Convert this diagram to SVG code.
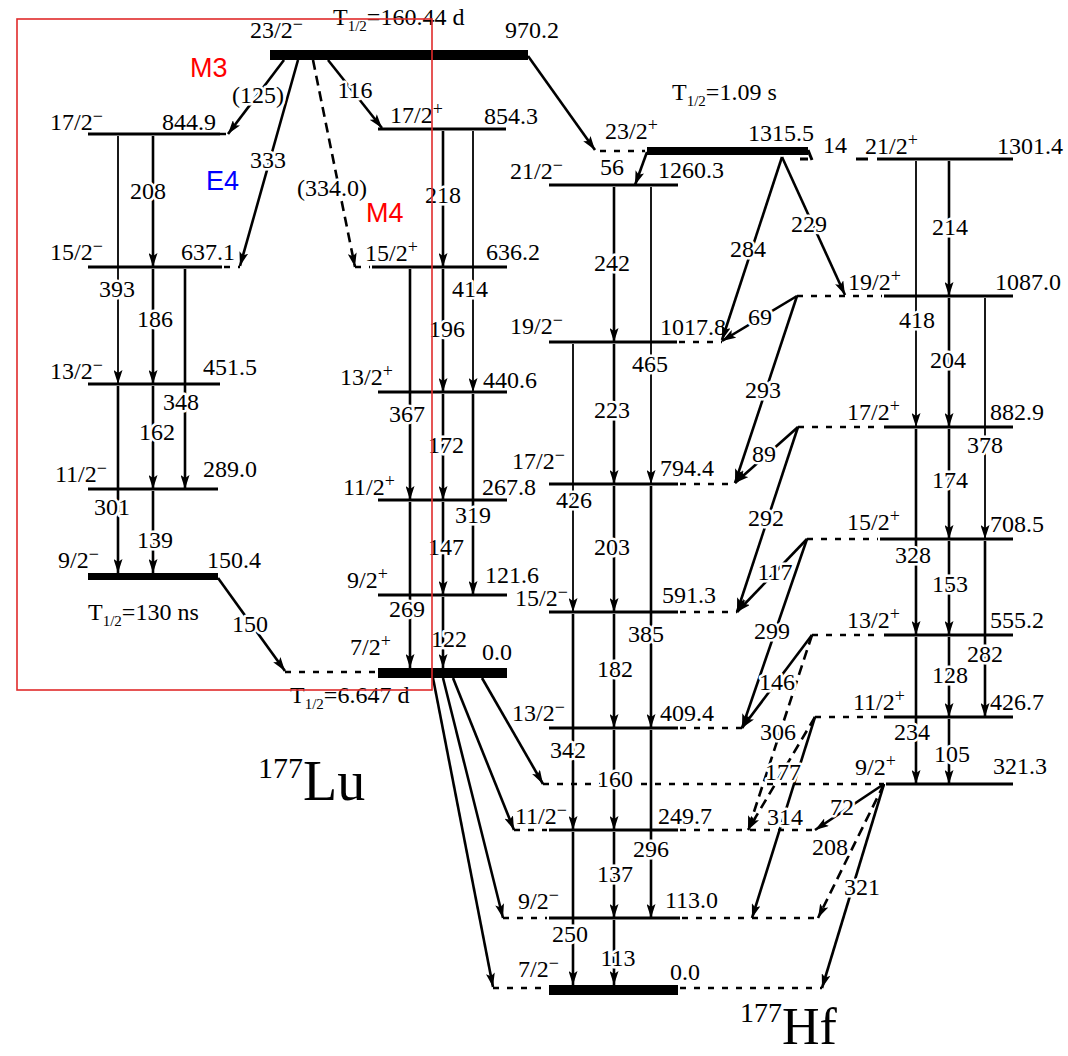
<svg xmlns="http://www.w3.org/2000/svg" width="1068" height="1056" viewBox="0 0 1068 1056">
<style>
.lv{stroke:#000;stroke-width:3;fill:none}
.ext{stroke:#000;stroke-width:2.5;stroke-dasharray:6 8;fill:none}
.t{stroke:#000;stroke-width:2.6;fill:none;marker-end:url(#ah)}
.tn{stroke-width:1.8}
.td{stroke-dasharray:10 6}
text{font-family:"Liberation Serif","Times New Roman",serif;font-size:24px;fill:#000}
.tl{text-anchor:middle;stroke:#fff;stroke-width:5;stroke-linejoin:round;paint-order:stroke}
.sp{font-size:18px}
.sub{font-size:15px}
.ann{font-family:"Liberation Sans",Arial,sans-serif;font-size:27px}
.red{fill:#ff0000}
.blue{fill:#0000ff}
</style>
<defs>
<marker id="ah" viewBox="0 0 14 9" refX="14" refY="4.5" markerWidth="14" markerHeight="9" markerUnits="userSpaceOnUse" orient="auto"><path d="M0,0 L14,4.5 L0,9 L3,4.5 z" fill="#000"/></marker>
</defs>
<rect width="1068" height="1056" fill="#fff"/>

<!-- 177Lu levels -->
<g id="lu-970"><path d="M270,55 H528" stroke="#000" stroke-width="10"/><text x="250" y="38">23/2<tspan class="sp" dy="-8">−</tspan></text><text x="505" y="38">970.2</text><text x="333" y="25">T<tspan class="sub" dy="6">1/2</tspan><tspan dy="-6">=160.44 d</tspan></text></g>
<g id="lu-844"><path class="lv" d="M88,134 H220"/><path class="ext" d="M220,134 H230"/><text x="50" y="130">17/2<tspan class="sp" dy="-8">−</tspan></text><text x="162" y="130">844.9</text></g>
<g id="lu-637"><path class="lv" d="M88,267 H222"/><path class="ext" d="M224,267 H240"/><text x="50" y="260">15/2<tspan class="sp" dy="-8">−</tspan></text><text x="181" y="260">637.1</text></g>
<g id="lu-451"><path class="lv" d="M88,384 H220"/><text x="50" y="379">13/2<tspan class="sp" dy="-8">−</tspan></text><text x="203" y="375">451.5</text></g>
<g id="lu-289"><path class="lv" d="M88,489 H218"/><text x="55" y="482">11/2<tspan class="sp" dy="-8">−</tspan></text><text x="203" y="477">289.0</text></g>
<g id="lu-150"><path d="M88,576.5 H218" stroke="#000" stroke-width="7"/><text x="58" y="568">9/2<tspan class="sp" dy="-8">−</tspan></text><text x="207" y="568">150.4</text><text x="88" y="620">T<tspan class="sub" dy="6">1/2</tspan><tspan dy="-6">=130 ns</tspan></text></g>
<g id="lu-854"><path class="lv" d="M378,129 H506"/><text x="390" y="123">17/2<tspan class="sp" dy="-8">+</tspan></text><text x="484" y="124">854.3</text></g>
<g id="lu-636"><path class="lv" d="M372,267 H507"/><path class="ext" d="M355,267 H370"/><text x="365" y="261">15/2<tspan class="sp" dy="-8">+</tspan></text><text x="486" y="260">636.2</text></g>
<g id="lu-440"><path class="lv" d="M378,392 H507"/><text x="340" y="385">13/2<tspan class="sp" dy="-8">+</tspan></text><text x="483" y="388">440.6</text></g>
<g id="lu-267"><path class="lv" d="M378,500 H507"/><text x="343" y="495">11/2<tspan class="sp" dy="-8">+</tspan></text><text x="482" y="495">267.8</text></g>
<g id="lu-121"><path class="lv" d="M378,595 H507"/><text x="347" y="588">9/2<tspan class="sp" dy="-8">+</tspan></text><text x="485" y="583">121.6</text></g>
<g id="lu-0"><path d="M378,673 H507" stroke="#000" stroke-width="10"/><path class="ext" d="M285,672 H376"/><text x="350" y="655">7/2<tspan class="sp" dy="-8">+</tspan></text><text x="482" y="660">0.0</text><text x="290" y="703">T<tspan class="sub" dy="6">1/2</tspan><tspan dy="-6">=6.647 d</tspan></text></g>
<g id="lu-name"><text x="258" y="800"><tspan font-size="30" dy="-22">177</tspan><tspan font-size="56" dy="22">Lu</tspan></text></g>

<!-- 177Hf levels -->
<g id="hf-1315"><path d="M647,151 H808" stroke="#000" stroke-width="8"/><path class="ext" d="M600,151 H645"/><text x="605" y="139">23/2<tspan class="sp" dy="-8">+</tspan></text><text x="748" y="141">1315.5</text><text x="672" y="100">T<tspan class="sub" dy="6">1/2</tspan><tspan dy="-6">=1.09 s</tspan></text></g>
<g id="hf-1260"><path class="lv" d="M549,185 H678"/><text x="510" y="179">21/2<tspan class="sp" dy="-8">−</tspan></text><text x="658" y="178">1260.3</text></g>
<g id="hf-1301"><path class="lv" d="M877,159 H1013"/><path class="lv" d="M800,159 H808 M856,159 H868" stroke-width="2.5"/><text x="865" y="154">21/2<tspan class="sp" dy="-8">+</tspan></text><text x="997" y="154">1301.4</text></g>
<g id="hf-1087"><path class="lv" d="M884,296 H1013"/><path class="ext" d="M797,296 H882"/><text x="848" y="290">19/2<tspan class="sp" dy="-8">+</tspan></text><text x="995" y="290">1087.0</text></g>
<g id="hf-1017"><path class="lv" d="M549,342 H677"/><path class="ext" d="M679,342 H722"/><text x="510" y="334">19/2<tspan class="sp" dy="-8">−</tspan></text><text x="660" y="335">1017.8</text></g>
<g id="hf-882"><path class="lv" d="M884,427 H1013"/><path class="ext" d="M798,427 H882"/><text x="847" y="420">17/2<tspan class="sp" dy="-8">+</tspan></text><text x="990" y="420">882.9</text></g>
<g id="hf-794"><path class="lv" d="M549,484 H678"/><path class="ext" d="M680,484 H735"/><text x="512" y="469">17/2<tspan class="sp" dy="-8">−</tspan></text><text x="660" y="476">794.4</text></g>
<g id="hf-708"><path class="lv" d="M880,539 H1013"/><path class="ext" d="M807,539 H878"/><text x="847" y="530">15/2<tspan class="sp" dy="-8">+</tspan></text><text x="990" y="532">708.5</text></g>
<g id="hf-591"><path class="lv" d="M549,612 H678"/><path class="ext" d="M680,612 H737"/><text x="515" y="606">15/2<tspan class="sp" dy="-8">−</tspan></text><text x="662" y="603">591.3</text></g>
<g id="hf-555"><path class="lv" d="M884,635 H1013"/><path class="ext" d="M812,635 H882"/><text x="847" y="628">13/2<tspan class="sp" dy="-8">+</tspan></text><text x="990" y="628">555.2</text></g>
<g id="hf-426"><path class="lv" d="M884,717 H1013"/><path class="ext" d="M815,717 H882"/><text x="853" y="710">11/2<tspan class="sp" dy="-8">+</tspan></text><text x="990" y="710">426.7</text></g>
<g id="hf-409"><path class="lv" d="M549,728 H678"/><path class="ext" d="M680,728 H742"/><text x="512" y="721">13/2<tspan class="sp" dy="-8">−</tspan></text><text x="660" y="721">409.4</text></g>
<g id="hf-321"><path class="lv" d="M886,784 H1013"/><path class="ext" d="M543,784 H884"/><text x="855" y="775">9/2<tspan class="sp" dy="-8">+</tspan></text><text x="993" y="774">321.3</text></g>
<g id="hf-249"><path class="lv" d="M549,830 H678"/><path class="ext" d="M514,830 H547 M680,830 H815"/><text x="515" y="824">11/2<tspan class="sp" dy="-8">−</tspan></text><text x="658" y="824">249.7</text></g>
<g id="hf-113"><path class="lv" d="M549,918 H680"/><path class="ext" d="M503,918 H547 M682,918 H820"/><text x="518" y="909">9/2<tspan class="sp" dy="-8">−</tspan></text><text x="665" y="908">113.0</text></g>
<g id="hf-0"><path d="M549,990 H678" stroke="#000" stroke-width="10"/><path class="ext" d="M493,988 H547 M680,988 H822"/><text x="518" y="977">7/2<tspan class="sp" dy="-8">−</tspan></text><text x="670" y="980">0.0</text></g>
<g id="hf-name"><text x="740" y="1044"><tspan font-size="28" dy="-22">177</tspan><tspan font-size="52" dy="22">Hf</tspan></text></g>

<!-- connectors -->
<g id="connectors">
<path class="t tn" d="M118,136 V384"/>
<path class="t" d="M153,136 V267"/>
<path class="t" d="M153,269 V384"/>
<path class="t" d="M185,269 V489" stroke-width="2"/>
<path class="t" d="M118,386 V573"/>
<path class="t" d="M153,386 V489"/>
<path class="t" d="M153,491 V573"/>
<path class="t" d="M284,60 L228,134"/>
<path class="t" d="M298,60 L240,266"/>
<path class="t td" d="M313,60 L355,267"/>
<path class="t" d="M328,60 L382,128"/>
<path class="t" d="M528,56 L595,150"/>
<path class="t" d="M218,578 L285,671"/>
<path class="t" d="M410,269 V500"/>
<path class="t" d="M410,502 V668"/>
<path class="t" d="M443,131 V267"/>
<path class="t" d="M443,269 V392"/>
<path class="t" d="M443,394 V500"/>
<path class="t" d="M443,502 V595"/>
<path class="t" d="M443,597 V668"/>
<path class="t tn" d="M473,131 V392"/>
<path class="t" d="M473,394 V595"/>
<path class="t" d="M482,678 L543,784"/>
<path class="t" d="M453,678 L514,830" stroke-width="2"/>
<path class="t" d="M443,678 L503,918" stroke-width="1.8"/>
<path class="t" d="M433,678 L493,987" stroke-width="1.6"/>
<path class="t" d="M647,152 L635,185"/>
<path d="M808,150 L812,160" stroke="#000" stroke-width="3"/>
<path class="t" d="M782,157 L722,340" stroke-width="2"/>
<path class="t" d="M782,157 L845,295"/>
<path class="t" d="M614,187 V342"/>
<path class="t" d="M614,344 V484"/>
<path class="t" d="M614,486 V612"/>
<path class="t" d="M614,614 V728"/>
<path class="t" d="M614,730 V830"/>
<path class="t" d="M614,832 V918"/>
<path class="t" d="M614,920 V985"/>
<path class="t tn" d="M651,187 V484"/>
<path class="t" d="M651,486 V728"/>
<path class="t" d="M651,730 V918"/>
<path class="t tn" d="M573,344 V612"/>
<path class="t" d="M573,614 V830"/>
<path class="t" d="M573,832 V985"/>
<path class="t tn" d="M916,161 V427"/>
<path class="t" d="M916,429 V635"/>
<path class="t" d="M916,637 V784"/>
<path class="t" d="M949,161 V296"/>
<path class="t" d="M949,298 V427"/>
<path class="t" d="M949,429 V539"/>
<path class="t" d="M949,541 V635"/>
<path class="t" d="M949,637 V717"/>
<path class="t" d="M949,719 V784"/>
<path class="t tn" d="M985,298 V539"/>
<path class="t" d="M985,541 V717"/>
<path class="t" d="M797,296 L722,341"/>
<path class="t" d="M797,296 L735,483"/>
<path class="t" d="M798,427 L735,483"/>
<path class="t" d="M798,427 L737,612"/>
<path class="t" d="M807,539 L737,612"/>
<path class="t" d="M807,539 L742,728"/>
<path class="t" d="M812,635 L742,728"/>
<path class="t td" d="M812,635 L748,830"/>
<path class="t td" d="M815,717 L748,830"/>
<path class="t" d="M815,717 L752,918"/>
<path class="t" d="M884,784 L815,830"/>
<path class="t td" d="M884,784 L818,918"/>
<path class="t" d="M884,784 L822,988"/>
</g>

<!-- transition labels -->
<g id="transition-labels">
<text class="tl" x="117" y="297">393</text>
<text class="tl" x="148" y="199">208</text>
<text class="tl" x="155" y="327">186</text>
<text class="tl" x="181" y="410">348</text>
<text class="tl" x="157" y="440">162</text>
<text class="tl" x="112" y="515">301</text>
<text class="tl" x="155" y="548">139</text>
<text class="tl" x="250" y="632">150</text>
<text class="tl" x="258" y="103">(125)</text>
<text class="tl" x="268" y="168">333</text>
<text class="tl" x="332" y="196">(334.0)</text>
<text class="tl" x="355" y="98">116</text>
<text class="tl" x="443" y="203">218</text>
<text class="tl" x="470" y="297">414</text>
<text class="tl" x="447" y="337">196</text>
<text class="tl" x="407" y="422">367</text>
<text class="tl" x="446" y="453">172</text>
<text class="tl" x="473" y="523">319</text>
<text class="tl" x="446" y="555">147</text>
<text class="tl" x="407" y="617">269</text>
<text class="tl" x="449" y="647">122</text>
<text class="tl" x="612" y="175">56</text>
<text class="tl" x="835" y="153">14</text>
<text class="tl" x="612" y="271">242</text>
<text class="tl" x="748" y="257">284</text>
<text class="tl" x="809" y="232">229</text>
<text class="tl" x="950" y="235">214</text>
<text class="tl" x="760" y="325">69</text>
<text class="tl" x="917" y="328">418</text>
<text class="tl" x="650" y="372">465</text>
<text class="tl" x="948" y="368">204</text>
<text class="tl" x="763" y="398">293</text>
<text class="tl" x="612" y="418">223</text>
<text class="tl" x="985" y="453">378</text>
<text class="tl" x="764" y="462">89</text>
<text class="tl" x="950" y="488">174</text>
<text class="tl" x="574" y="508">426</text>
<text class="tl" x="766" y="526">292</text>
<text class="tl" x="913" y="563">328</text>
<text class="tl" x="612" y="555">203</text>
<text class="tl" x="775" y="580">117</text>
<text class="tl" x="950" y="592">153</text>
<text class="tl" x="772" y="639">299</text>
<text class="tl" x="646" y="642">385</text>
<text class="tl" x="985" y="662">282</text>
<text class="tl" x="615" y="677">182</text>
<text class="tl" x="950" y="683">128</text>
<text class="tl" x="777" y="690">146</text>
<text class="tl" x="778" y="740">306</text>
<text class="tl" x="912" y="740">234</text>
<text class="tl" x="952" y="762">105</text>
<text class="tl" x="568" y="758">342</text>
<text class="tl" x="783" y="780">177</text>
<text class="tl" x="615" y="787">160</text>
<text class="tl" x="842" y="815">72</text>
<text class="tl" x="785" y="825">314</text>
<text class="tl" x="651" y="857">296</text>
<text class="tl" x="830" y="855">208</text>
<text class="tl" x="615" y="882">137</text>
<text class="tl" x="862" y="895">321</text>
<text class="tl" x="570" y="942">250</text>
<text class="tl" x="618" y="966">113</text>
</g>

<!-- annotations -->
<g id="annotations">
<rect x="17" y="19" width="415" height="671" fill="none" stroke="#e02b2b" stroke-width="1.6"/>
<text class="ann red" x="190" y="77">M3</text>
<text class="ann blue" x="206" y="190">E4</text>
<text class="ann red" x="366" y="222">M4</text>
</g>
</svg>
